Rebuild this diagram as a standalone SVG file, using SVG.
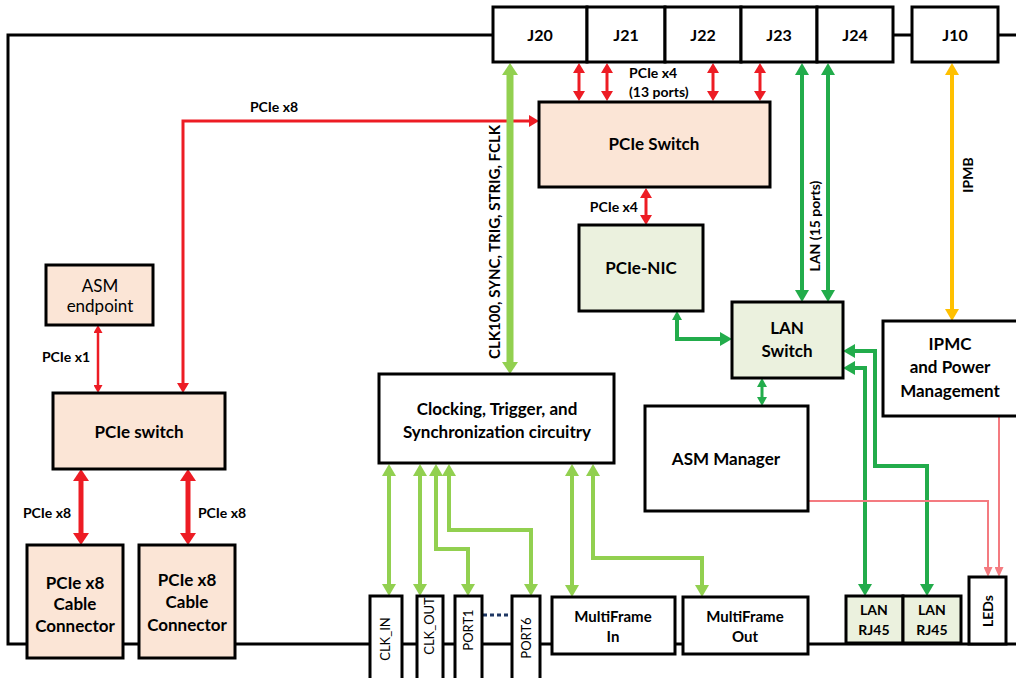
<svg xmlns="http://www.w3.org/2000/svg" width="1016" height="678" viewBox="0 0 1016 678">
<defs>
<style>
text{font-family:Lato,"Liberation Sans",sans-serif;fill:#000;text-anchor:middle}
.b{font-weight:bold}
.t18{font-size:18px}
.t17{font-size:17px}
.t16{font-size:16px}
.t15{font-size:15px}
.t14{font-size:14px}
.t13{font-size:13px}
.box{stroke:#000;stroke-width:3}
.w{fill:#fff}
.pe{fill:#fbe5d6}
.gr{fill:#ebf1de}
.frame{fill:none;stroke:#000;stroke-width:3}
.red{fill:none;stroke:#ed1c24}
.dg{fill:none;stroke:#22ac4b}
.lg{fill:none;stroke:#92d050}
.yl{fill:none;stroke:#ffc000}
.pk{fill:none;stroke:#f47b80}
</style>
<marker id="rb" viewBox="0 -8 12 16" refX="0" refY="0" markerWidth="12" markerHeight="16" markerUnits="userSpaceOnUse" orient="auto-start-reverse"><path d="M0,-8L12,0L0,8z" fill="#ed1c24"/></marker>
<marker id="rm" viewBox="0 -6 10 12" refX="0" refY="0" markerWidth="10" markerHeight="12" markerUnits="userSpaceOnUse" orient="auto-start-reverse"><path d="M0,-6L10,0L0,6z" fill="#ed1c24"/></marker>
<marker id="rs" viewBox="0 -4.5 8 9" refX="0" refY="0" markerWidth="8" markerHeight="9" markerUnits="userSpaceOnUse" orient="auto-start-reverse"><path d="M0,-4.5L8,0L0,4.5z" fill="#ed1c24"/></marker>
<marker id="gd" viewBox="0 -7 12 14" refX="0" refY="0" markerWidth="12" markerHeight="14" markerUnits="userSpaceOnUse" orient="auto-start-reverse"><path d="M0,-7L12,0L0,7z" fill="#22ac4b"/></marker>
<marker id="gds" viewBox="0 -5 9 10" refX="0" refY="0" markerWidth="9" markerHeight="10" markerUnits="userSpaceOnUse" orient="auto-start-reverse"><path d="M0,-5L9,0L0,5z" fill="#22ac4b"/></marker>
<marker id="gl" viewBox="0 -7 12 14" refX="0" refY="0" markerWidth="12" markerHeight="14" markerUnits="userSpaceOnUse" orient="auto-start-reverse"><path d="M0,-7L12,0L0,7z" fill="#92d050"/></marker>
<marker id="glb" viewBox="0 -8 12 16" refX="0" refY="0" markerWidth="12" markerHeight="16" markerUnits="userSpaceOnUse" orient="auto-start-reverse"><path d="M0,-8L12,0L0,8z" fill="#92d050"/></marker>
<marker id="yl" viewBox="0 -7 12 14" refX="0" refY="0" markerWidth="12" markerHeight="14" markerUnits="userSpaceOnUse" orient="auto-start-reverse"><path d="M0,-7L12,0L0,7z" fill="#ffc000"/></marker>
<marker id="pk" viewBox="0 -4.5 10 9" refX="0" refY="0" markerWidth="10" markerHeight="9" markerUnits="userSpaceOnUse" orient="auto-start-reverse"><path d="M0,-4.5L10,0L0,4.5z" fill="#f47b80"/></marker>
</defs>
<rect width="1016" height="678" fill="#fff"/>

<g id="frame">
<path class="frame" d="M493,35H8V644H1016"/>
<path class="frame" d="M893,35H912M998,35H1016"/>
</g>

<g id="connectors">
<path class="red" stroke-width="3" d="M579,91V73" marker-start="url(#rm)" marker-end="url(#rm)"/>
<path class="red" stroke-width="3" d="M607,91V73" marker-start="url(#rm)" marker-end="url(#rm)"/>
<path class="red" stroke-width="3" d="M713,91V73" marker-start="url(#rm)" marker-end="url(#rm)"/>
<path class="red" stroke-width="3" d="M760,91V73" marker-start="url(#rm)" marker-end="url(#rm)"/>
<path class="red" stroke-width="3" d="M646,198V215" marker-start="url(#rm)" marker-end="url(#rm)"/>
<path class="red" stroke-width="3" d="M183,383V121H529" marker-start="url(#rm)" marker-end="url(#rm)"/>
<path class="red" stroke-width="2.5" d="M98,333V385" marker-start="url(#rs)" marker-end="url(#rs)"/>
<path class="red" stroke-width="5" d="M81,481V533" marker-start="url(#rb)" marker-end="url(#rb)"/>
<path class="red" stroke-width="5" d="M188,481V533" marker-start="url(#rb)" marker-end="url(#rb)"/>
<path class="lg" stroke-width="7" d="M510,75V362" marker-start="url(#glb)" marker-end="url(#glb)"/>
<path class="dg" stroke-width="4" d="M802,75V290" marker-start="url(#gd)" marker-end="url(#gd)"/>
<path class="dg" stroke-width="4" d="M828,75V290" marker-start="url(#gd)" marker-end="url(#gd)"/>
<path class="yl" stroke-width="4" d="M952,75V309" marker-start="url(#yl)" marker-end="url(#yl)"/>
<path class="dg" stroke-width="4" d="M677,320V339H720" marker-start="url(#gds)" marker-end="url(#gd)"/>
<path class="dg" stroke-width="3" d="M762,387V397" marker-start="url(#gds)" marker-end="url(#gds)"/>
<path class="dg" stroke-width="4" d="M865,584V368H855" marker-start="url(#gd)" marker-end="url(#gd)"/>
<path class="dg" stroke-width="4" d="M927,584V466H875V351H855" marker-start="url(#gd)" marker-end="url(#gd)"/>
<path class="pk" stroke-width="2" d="M808,501H988V567" marker-end="url(#pk)"/>
<path class="pk" stroke-width="2" d="M999,416V567" marker-end="url(#pk)"/>
<path class="lg" stroke-width="4" d="M389,476V584" marker-start="url(#gl)" marker-end="url(#gl)"/>
<path class="lg" stroke-width="4" d="M420,476V584" marker-start="url(#gl)" marker-end="url(#gl)"/>
<path class="lg" stroke-width="4" d="M436,476V549H468V584" marker-start="url(#gl)" marker-end="url(#gl)"/>
<path class="lg" stroke-width="4" d="M449,476V530H531V584" marker-start="url(#gl)" marker-end="url(#gl)"/>
<path class="lg" stroke-width="4" d="M572,476V585" marker-start="url(#gl)" marker-end="url(#gl)"/>
<path class="lg" stroke-width="4" d="M593,476V558H702V585" marker-start="url(#gl)" marker-end="url(#gl)"/>
<path fill="none" stroke="#1f3864" stroke-width="3" stroke-dasharray="4,3" d="M483,615H512"/>
<text class="b t14" x="274" y="112">PCIe x8</text>
<text class="b t14" x="629" y="78" style="text-anchor:start">PCIe x4</text>
<text class="b t14" x="629" y="97" style="text-anchor:start">(13 ports)</text>
<text class="b t14" x="638" y="212" style="text-anchor:end">PCIe x4</text>
<text class="b t14" x="66" y="362">PCIe x1</text>
<text class="b t14" x="47" y="518">PCIe x8</text>
<text class="b t14" x="222" y="518">PCIe x8</text>
<text class="b t15" transform="translate(500,242) rotate(-90)">CLK100, SYNC, TRIG, STRIG, FCLK</text>
<text class="b t14" transform="translate(820,226) rotate(-90)">LAN (15 ports)</text>
<text class="b t14" transform="translate(973,175) rotate(-90)">IPMB</text>
</g>

<g id="J20"><rect class="box w" x="493" y="7" width="94" height="55"/><text class="b t16" x="540" y="41">J20</text></g>
<g id="J21"><rect class="box w" x="587" y="7" width="78" height="55"/><text class="b t16" x="626" y="41">J21</text></g>
<g id="J22"><rect class="box w" x="665" y="7" width="76" height="55"/><text class="b t16" x="703" y="41">J22</text></g>
<g id="J23"><rect class="box w" x="741" y="7" width="76" height="55"/><text class="b t16" x="779" y="41">J23</text></g>
<g id="J24"><rect class="box w" x="817" y="7" width="76" height="55"/><text class="b t16" x="855" y="41">J24</text></g>
<g id="J10"><rect class="box w" x="912" y="7" width="86" height="55"/><text class="b t16" x="955" y="41">J10</text></g>

<g id="pcie-switch-top"><rect class="box pe" x="539" y="102" width="231" height="85"/><text class="b t17" x="654" y="150">PCIe Switch</text></g>
<g id="pcie-nic"><rect class="box gr" x="579" y="225" width="124" height="86"/><text class="b t17" x="641" y="274">PCIe-NIC</text></g>
<g id="lan-switch"><rect class="box gr" x="732" y="302" width="111" height="76"/><text class="b t17" x="787" y="334">LAN</text><text class="b t17" x="787" y="357">Switch</text></g>
<g id="asm-manager"><rect class="box w" x="645" y="406" width="163" height="105"/><text class="b t17" x="726" y="465">ASM Manager</text></g>
<g id="ipmc"><rect class="box w" x="883" y="321" width="150" height="95"/><text class="b t17" x="950" y="350">IPMC</text><text class="b t17" x="950" y="373">and Power</text><text class="b t17" x="950" y="397">Management</text></g>
<g id="clocking"><rect class="box w" x="379" y="374" width="235" height="89"/><text class="b t17" x="497" y="415">Clocking, Trigger, and</text><text class="b t17" x="497" y="438">Synchronization circuitry</text></g>
<g id="asm-endpoint"><rect class="box pe" x="46" y="265" width="107" height="60"/><text class="t17" x="100" y="292">ASM</text><text class="t17" x="100" y="312">endpoint</text></g>
<g id="pcie-switch-left"><rect class="box pe" x="53" y="393" width="172" height="76"/><text class="b t17" x="139" y="438">PCIe switch</text></g>
<g id="cable-conn-1"><rect class="box pe" x="27" y="545" width="96" height="113"/><text class="b t17" x="75" y="589">PCIe x8</text><text class="b t17" x="75" y="610">Cable</text><text class="b t17" x="75" y="632">Connector</text></g>
<g id="cable-conn-2"><rect class="box pe" x="139" y="545" width="96" height="113"/><text class="b t17" x="187" y="586">PCIe x8</text><text class="b t17" x="187" y="608">Cable</text><text class="b t17" x="187" y="631">Connector</text></g>
<g id="clk-in"><rect class="box w" x="370" y="596" width="32" height="90"/><text class="t13" transform="translate(390,639) rotate(-90)">CLK_IN</text></g>
<g id="clk-out"><rect class="box w" x="417" y="596" width="26" height="90"/><text class="t13" transform="translate(434,626) rotate(-90)">CLK_OUT</text></g>
<g id="port1"><rect class="box w" x="455" y="596" width="27" height="90"/><text class="t13" transform="translate(473,630) rotate(-90)">PORT1</text></g>
<g id="port6"><rect class="box w" x="512" y="596" width="28" height="90"/><text class="t13" transform="translate(531,638) rotate(-90)">PORT6</text></g>
<g id="multiframe-in"><rect class="box w" x="552" y="597" width="123" height="57"/><text class="b t15" x="613" y="622">MultiFrame</text><text class="b t15" x="613" y="642">In</text></g>
<g id="multiframe-out"><rect class="box w" x="683" y="597" width="125" height="57"/><text class="b t15" x="745" y="622">MultiFrame</text><text class="b t15" x="745" y="642">Out</text></g>
<g id="lan-rj45-1"><rect class="box gr" x="846" y="596" width="57" height="47"/><text class="b t14" x="874" y="615">LAN</text><text class="b t14" x="874" y="635">RJ45</text></g>
<g id="lan-rj45-2"><rect class="box gr" x="903" y="596" width="58" height="47"/><text class="b t14" x="932" y="615">LAN</text><text class="b t14" x="932" y="635">RJ45</text></g>
<g id="leds"><rect class="box w" x="969" y="577" width="37" height="67"/><text class="b t14" transform="translate(993,611) rotate(-90)">LEDs</text></g>
</svg>
